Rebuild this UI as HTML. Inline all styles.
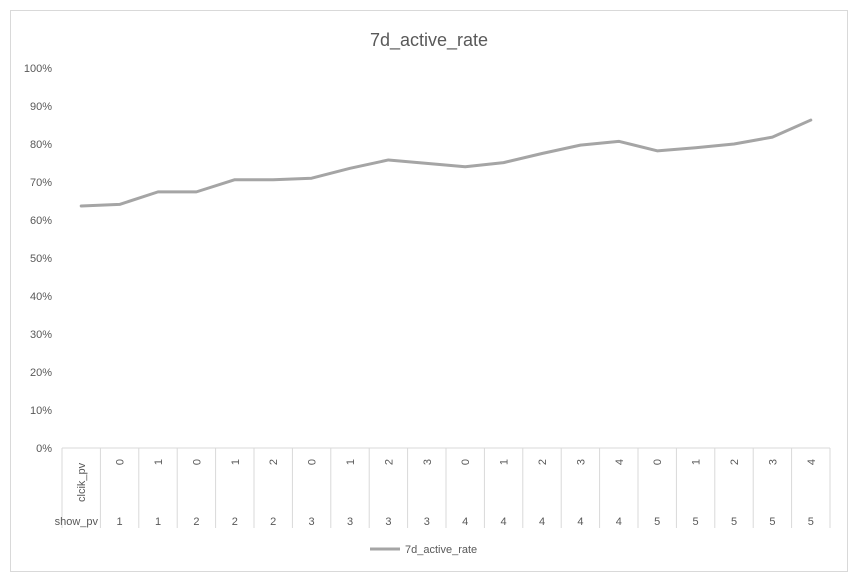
<!DOCTYPE html>
<html><head><meta charset="utf-8"><style>
body{margin:0;background:#fff;}
svg{display:block;font-family:"Liberation Sans",sans-serif;}
</style></head><body>
<svg id="c" width="858" height="582">
<rect x="10.5" y="10.5" width="837" height="561" fill="#fff" stroke="#d9d9d9"/>
<text x="429" y="46" text-anchor="middle" font-size="18" fill="#595959">7d_active_rate</text>
<g id="yaxis"></g>
<g id="xaxis"></g>
<g id="series"></g>
<g>
<line x1="370" y1="549" x2="400" y2="549" stroke="#a5a5a5" stroke-width="3"/>
<text x="405" y="553" font-size="11" fill="#595959">7d_active_rate</text>
</g>
</svg>
<script>
const showPv=["1","1","2","2","2","3","3","3","3","4","4","4","4","4","5","5","5","5","5"];
const clickPv=["0","1","0","1","2","0","1","2","3","0","1","2","3","4","0","1","2","3","4"];
const values=[63.7,64.1,67.4,67.4,70.6,70.6,71.0,73.6,75.8,74.9,74.0,75.1,77.5,79.7,80.7,78.2,79.0,80.0,81.8,86.3];
const yTicks=[0,10,20,30,40,50,60,70,80,90,100];
const NS="http://www.w3.org/2000/svg";
const x0=62,x1=830,y0=448,y1=68,n=values.length;
const slot=(x1-x0)/n;
const xs=i=>x0+slot*(i+0.5);
const ys=v=>y0-(v/100)*(y0-y1);
function mk(t,a,p){const e=document.createElementNS(NS,t);for(const k in a)e.setAttribute(k,a[k]);p.appendChild(e);return e;}
const ya=document.getElementById('yaxis');
yTicks.forEach(v=>{const t=mk('text',{x:52,y:ys(v)+4,'text-anchor':'end','font-size':11,fill:'#595959'},ya);


t.textContent=v+'%';});
const xa=document.getElementById('xaxis');
const ax=mk('line',{x1:x0,y1:y0,x2:x1,y2:y0,stroke:'#d9d9d9'},xa);


for(let i=0;i<=n;i++){const l=mk('line',{x1:x0+slot*i,y1:y0,x2:x0+slot*i,y2:528,stroke:'#d9d9d9'},xa);

}
const h=mk('text',{transform:`translate(${xs(0)+4},${502}) rotate(-90)`,'font-size':11,fill:'#595959'},xa);


h.textContent='clcik_pv';
const h2=mk('text',{x:98,y:525,'font-size':11,fill:'#595959','text-anchor':'end'},xa);


h2.textContent='show_pv';
clickPv.forEach((c,i)=>{const t=mk('text',{transform:`translate(${xs(i+1)+4},${462}) rotate(-90)`,'font-size':11,fill:'#595959','text-anchor':'middle'},xa);


t.textContent=c;});
showPv.forEach((s,i)=>{const t=mk('text',{x:xs(i+1),y:525,'font-size':11,fill:'#595959','text-anchor':'middle'},xa);


t.textContent=s;});
const se=document.getElementById('series');
const p=mk('polyline',{points:values.map((v,i)=>xs(i)+','+ys(v)).join(' '),fill:'none',stroke:'#a5a5a5','stroke-width':3,'stroke-linejoin':'round','stroke-linecap':'round'},se);


</script>
</body></html>
